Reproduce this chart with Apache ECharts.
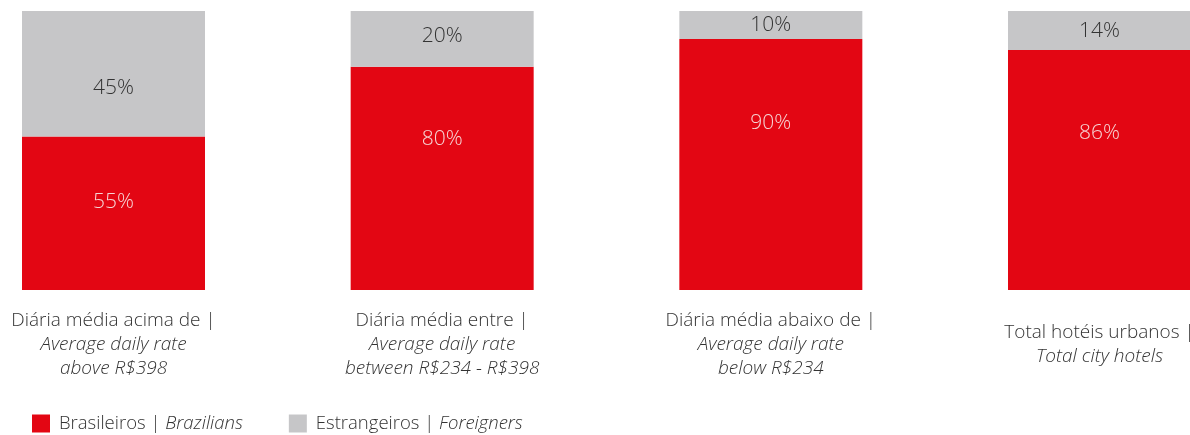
<!DOCTYPE html>
<html lang="pt">
<head>
    <meta charset="UTF-8">
    <title>Brasileiros x Estrangeiros</title>
    <script src="https://cdn.jsdelivr.net/npm/echarts@6/dist/echarts.min.js"></script>
</head>
<body style="margin: 0; background: #fff">
<div id="chart" style="width: 1190px; height: 435px"></div>

<script>
    // categories: plain line + italic lines
    let catTop = ['Diária média acima de |', 'Diária média entre |', 'Diária média abaixo de |', 'Total hotéis urbanos |'];
    let catSub = [
        ['Average daily rate', 'above R$398'],
        ['Average daily rate', 'between R$234 - R$398'],
        ['Average daily rate', 'below R$234'],
        ['Total city hotels']
    ];
    let brasileiros = [55, 80, 90, 86];
    let estrangeiros = [45, 20, 10, 14];

    let font = '"Open Sans", "Noto Sans", sans-serif';

    let cats = catTop.map(function (t, i) {
        return '{n|' + t + '}\n' + catSub[i].map(function (s) { return '{i|' + s + '}'; }).join('\n');
    });

    // label tweaks, per bar
    let redDist = [55, 62, 74, 72];
    let greyShift = [14, -3, 0, 0];

    let myChart = echarts.init(document.getElementById('chart'));

    let option = {
        animation: false,
        textStyle: {fontFamily: font},
        grid: {left: 113.5, right: 90.5, top: 11, bottom: 145, containLabel: false, outerBoundsMode: 'none'},
        legend: {
            left: 27,
            top: 409,
            itemWidth: 18,
            itemHeight: 18,
            itemGap: 46,
            icon: 'rect',
            textStyle: {
                fontFamily: font,
                fontSize: 18.5,
                fontWeight: 300,
                color: '#333',
                rich: {
                    n: {fontFamily: font, fontSize: 18.5, fontWeight: 300, color: '#333', padding: [0, 0, 0, 4]},
                    i: {fontFamily: font, fontSize: 18.5, fontWeight: 300, fontStyle: 'italic', color: '#333'}
                }
            },
            formatter: function (name) {
                let p = name.split(' | ');
                return '{n|' + p[0] + ' | }{i|' + p[1] + '}';
            },
            data: ['Brasileiros | Brazilians', 'Estrangeiros | Foreigners']
        },
        xAxis: {
            type: 'category',
            data: cats,
            boundaryGap: false,
            axisLine: {show: false},
            axisTick: {show: false},
            axisLabel: {
                interval: 0,
                margin: 55,
                verticalAlign: 'middle',
                align: 'center',
                rich: {
                    n: {fontFamily: font, fontSize: 19, fontWeight: 300, color: '#333', lineHeight: 24, align: 'center'},
                    i: {fontFamily: font, fontSize: 19, fontWeight: 300, fontStyle: 'italic', color: '#333', lineHeight: 24, align: 'center'}
                }
            }
        },
        yAxis: {
            type: 'value',
            min: 0,
            max: 100,
            show: false
        },
        series: [
            {
                name: 'Brasileiros | Brazilians',
                type: 'bar',
                stack: 'total',
                barWidth: 183,
                itemStyle: {color: '#E30613'},
                label: {
                    show: true,
                    position: 'insideTop',
                    formatter: '{c}%',
                    fontFamily: font,
                    fontSize: 21,
                    fontWeight: 300,
                    color: '#F6D4D4'
                },
                data: brasileiros.map(function (v, i) {
                    return {value: v, label: {distance: redDist[i]}};
                })
            },
            {
                name: 'Estrangeiros | Foreigners',
                type: 'bar',
                stack: 'total',
                barWidth: 183,
                itemStyle: {color: '#C6C6C8'},
                label: {
                    show: true,
                    position: 'inside',
                    formatter: '{c}%',
                    fontFamily: font,
                    fontSize: 21,
                    fontWeight: 300,
                    color: '#333'
                },
                data: estrangeiros.map(function (v, i) {
                    return {value: v, label: {offset: [0, greyShift[i]]}};
                })
            }
        ]
    };
    myChart.setOption(option);
</script>
</body>
</html>
